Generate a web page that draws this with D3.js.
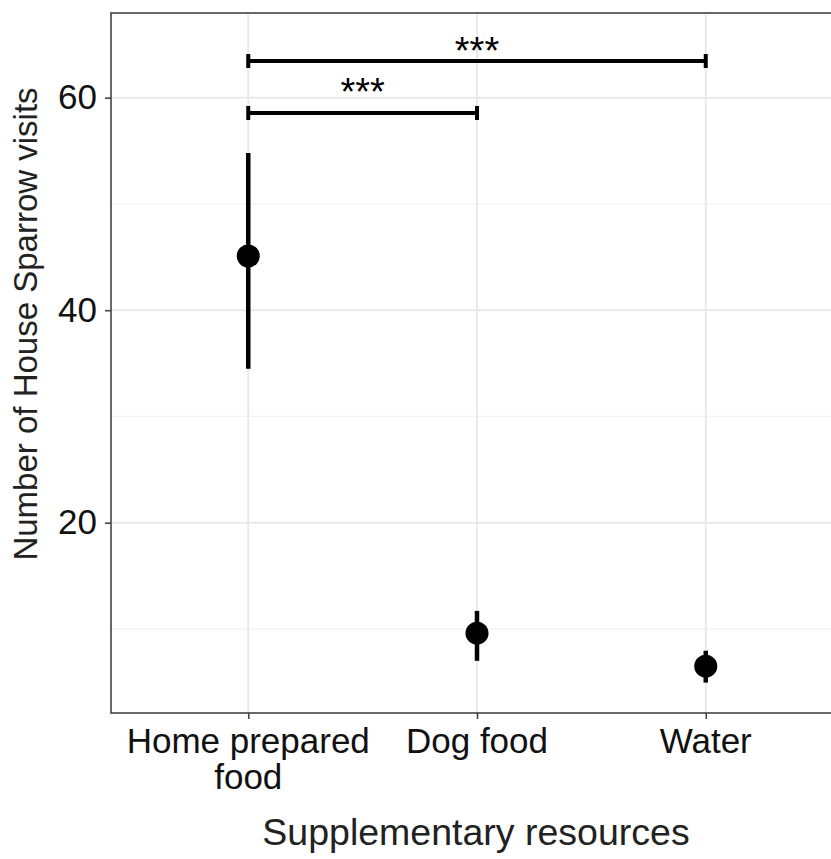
<!DOCTYPE html>
<html>
<head>
<meta charset="utf-8">
<script src="https://cdn.jsdelivr.net/npm/d3@7"></script>
<style>
  body { margin: 0; background: #fff; }
  text { font-family: "Liberation Sans", Arial, sans-serif; }
</style>
</head>
<body>
<div id="chart"></div>
<script>
// data
const categories = ["Home prepared food", "Dog food", "Water"];
const tickLines = [["Home prepared", "food"], ["Dog food"], ["Water"]];
const means = [45.1, 9.6, 6.5];
const lower = [34.5, 7.0, 4.95];
const upper = [54.8, 11.7, 7.95];
const yTicks = [20, 40, 60];
const yMinor = [10, 30, 50];
const sigFrom = ["Home prepared food", "Home prepared food"];
const sigTo = ["Water", "Dog food"];
const sigY = [63.45, 58.56];
const sigTextY = [65.15, 61.3];
const sigLabel = ["***", "***"];

const width = 831, height = 859;
const pLeft = 111, pTop = 13, pRight = 843, pBottom = 713;

const svg = d3.select("#chart").append("svg")
    .attr("width", width).attr("height", height);

const x = d3.scalePoint().domain(categories).range([pLeft, pRight]).padding(0.6);
const y = d3.scaleLinear().domain([2.09, 67.97]).range([pBottom, pTop]);

// panel background + grid
svg.append("rect").attr("x", pLeft).attr("y", pTop)
    .attr("width", pRight - pLeft).attr("height", pBottom - pTop).attr("fill", "#fff");

svg.selectAll(".minor").data(yMinor).enter().append("line")
    .attr("x1", pLeft).attr("x2", pRight)
    .attr("y1", d => y(d)).attr("y2", d => y(d))
    .style("stroke", "#f2f2f2").style("stroke-width", 1.2);
svg.selectAll(".majorY").data(yTicks).enter().append("line")
    .attr("x1", pLeft).attr("x2", pRight)
    .attr("y1", d => y(d)).attr("y2", d => y(d))
    .style("stroke", "#e9e9e9").style("stroke-width", 2);
svg.selectAll(".majorX").data(categories).enter().append("line")
    .attr("x1", d => x(d)).attr("x2", d => x(d))
    .attr("y1", pTop).attr("y2", pBottom)
    .style("stroke", "#e9e9e9").style("stroke-width", 2);

// error bars + points
svg.selectAll(".err").data(categories).enter().append("line")
    .attr("x1", d => x(d)).attr("x2", d => x(d))
    .attr("y1", (d, i) => y(lower[i])).attr("y2", (d, i) => y(upper[i]))
    .style("stroke", "#000").style("stroke-width", 4.5);
svg.selectAll(".pt").data(categories).enter().append("circle")
    .attr("cx", d => x(d)).attr("cy", (d, i) => y(means[i]))
    .attr("r", 11.5).attr("fill", "#000");

// significance brackets
sigY.forEach((v, i) => {
    const x1 = x(sigFrom[i]), x2 = x(sigTo[i]), yy = y(v);
    svg.append("line").attr("x1", x1).attr("x2", x2).attr("y1", yy).attr("y2", yy)
        .style("stroke", "#000").style("stroke-width", 4);
    [x1, x2].forEach(xx => {
        svg.append("line").attr("x1", xx).attr("x2", xx)
            .attr("y1", yy - 7).attr("y2", yy + 7)
            .style("stroke", "#000").style("stroke-width", 4);
    });
    // asterisks sit high in the em box, so push the baseline down to centre them
    svg.append("text").attr("x", (x1 + x2) / 2).attr("y", y(sigTextY[i]) + 21)
        .attr("text-anchor", "middle")
        .style("font-size", "38px").style("fill", "#000")
        .text(sigLabel[i]);
});

// panel border (right side falls outside the picture)
svg.append("rect").attr("x", pLeft).attr("y", pTop)
    .attr("width", pRight - pLeft).attr("height", pBottom - pTop)
    .attr("fill", "none").style("stroke", "#444").style("stroke-width", 1.6);

// axes
const yAxis = svg.append("g").attr("transform", `translate(${pLeft},0)`)
    .call(d3.axisLeft(y).tickValues(yTicks).tickSize(6).tickPadding(8));
yAxis.select(".domain").remove();
yAxis.selectAll("line").style("stroke", "#444").style("stroke-width", 1.6);
yAxis.selectAll("text").style("font-size", "35px").style("fill", "#111")
    .style("font-family", "Liberation Sans, Arial, sans-serif");

const xAxis = svg.append("g").attr("transform", `translate(0,${pBottom})`)
    .call(d3.axisBottom(x).tickSize(6).tickFormat(""));
xAxis.select(".domain").remove();
xAxis.selectAll("line").style("stroke", "#444").style("stroke-width", 1.6);

svg.selectAll(".xlab").data(categories).enter().append("text")
    .attr("x", d => x(d)).attr("y", 753)
    .attr("text-anchor", "middle")
    .style("font-size", "35px").style("fill", "#111")
    .each(function (d, i) {
        d3.select(this).selectAll("tspan").data(tickLines[i]).enter().append("tspan")
            .attr("x", x(d)).attr("dy", (t, j) => j === 0 ? 0 : 36)
            .text(t => t);
    });

// titles
svg.append("text").attr("x", (pLeft + pRight) / 2 - 1).attr("y", 845)
    .attr("text-anchor", "middle")
    .style("font-size", "37.5px").style("fill", "#222")
    .text("Supplementary resources");

svg.append("text").attr("transform", "translate(37,324) rotate(-90)")
    .attr("text-anchor", "middle")
    .style("font-size", "33px").style("fill", "#222")
    .text("Number of House Sparrow visits");
</script>
</body>
</html>
